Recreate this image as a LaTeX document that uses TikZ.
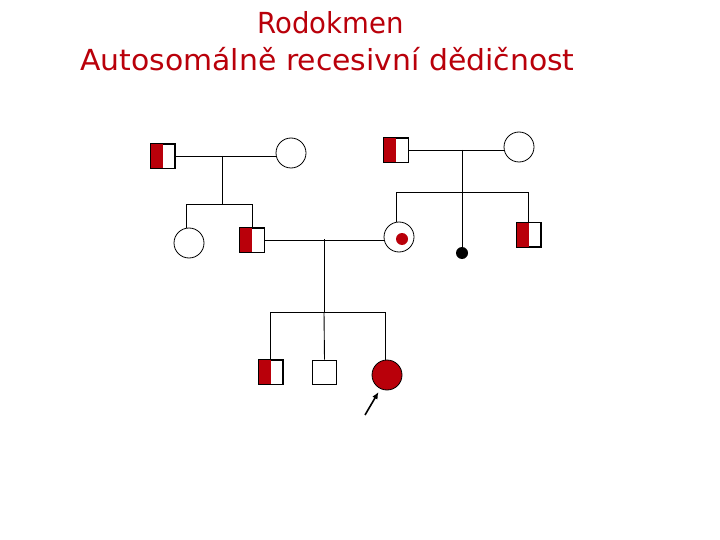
\documentclass[tikz,border=0pt]{standalone}
\usepackage{fontspec}
\setmainfont{DejaVu Sans}
\usetikzlibrary{arrows.meta}
\definecolor{pedred}{RGB}{185,0,10}
\begin{document}
\begin{tikzpicture}[x=1pt,y=-1pt,
  line/.style={draw=black,line width=0.9pt},
  sq/.style={draw=black,line width=0.8pt,fill=white,minimum size=24pt,inner sep=0pt,rectangle},
  circ/.style={draw=black,line width=0.8pt,fill=white,circle,minimum size=30pt,inner sep=0pt},
  title/.style={text=pedred,font=\fontsize{29}{33}\selectfont,inner sep=0pt,anchor=base}]
\useasboundingbox (0,0) rectangle (720,540);
% titles
\node[title,xscale=0.95] (t1) at (330.5,34) {Rodokmen};
\node[title,xscale=1.03] (t2) at (327.5,71) {Autosomálně recesivní dědičnost};
% generation I left
\node[sq] (a) at (162.5,156) {};
\fill[pedred] (a.north west) rectangle (a.south);
\draw[line width=0.8pt] (a.north west) rectangle (a.south east);
\node[circ] (b) at (291,153) {};
\coordinate (ab) at (222,156);
\draw[line] (a.east) -- (b.west|-a.east);
\coordinate (s1) at (222,204);
\draw[line] (ab) -- (s1);
% generation II left
\node[circ] (c) at (189,243) {};
\node[sq] (d) at (252,240) {};
\fill[pedred] (d.north west) rectangle (d.south);
\draw[line width=0.8pt] (d.north west) rectangle (d.south east);
\draw[line] (c.north-|186,0) -- (186,204) -- (252,204) -- (d.north);
% generation I right
\node[sq] (e) at (396,150) {};
\fill[pedred] (e.north west) rectangle (e.south);
\draw[line width=0.8pt] (e.north west) rectangle (e.south east);
\node[circ] (f) at (519,147) {};
\draw[line] (e.east) -- (f.west|-e.east);
\coordinate (ef) at (462,150);
\coordinate (s2) at (462,192);
% generation II right
\node[circ] (g) at (399,237) {};
\fill[pedred] (402,239) circle (6);
\node[sq] (h) at (528.5,234.5) {};
\fill[pedred] (h.north west) rectangle (h.south);
\draw[line width=0.8pt] (h.north west) rectangle (h.south east);
\node[circle,fill=black,minimum size=12pt,inner sep=0pt] (k) at (462,253) {};
\draw[line] (ef) -- (k);
\draw[line] (396,222) -- (396,192) -- (528.5,192) -- (h.north);
% marriage d-g
\draw[line] (d.east) -- (g.west|-d.east);
\coordinate (dg) at (324,239);
\coordinate (s3) at (324,312);
\draw[line] (dg) -- (s3);
% generation III
\node[sq] (m) at (270.5,372) {};
\fill[pedred] (m.north west) rectangle (m.south);
\draw[line width=0.8pt] (m.north west) rectangle (m.south east);
\node[sq] (n) at (324.5,372) {};
\node[circ,fill=pedred] (p) at (387,375) {};
\draw[line] (m.north) -- (270.5,312) -- (385,312) -- (385,360);
\draw[line] (s3) -- (n.north);
% arrow
\coordinate (ar) at (365,415);
\draw[line width=1.6pt,-{Latex[length=7pt,width=6pt]}] (ar) -- (378.5,392);
\end{tikzpicture}
\end{document}
